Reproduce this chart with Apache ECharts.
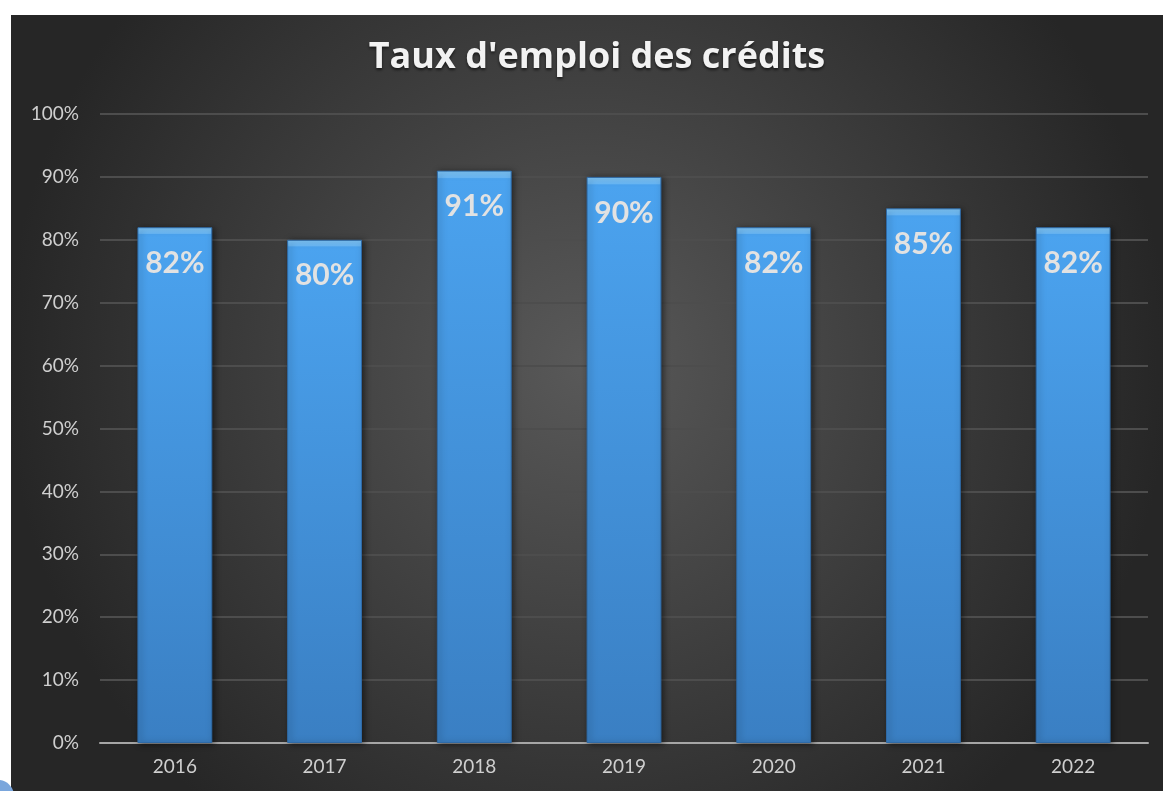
<!DOCTYPE html>
<html>
<head>
<meta charset="utf-8">
<script src="https://cdn.jsdelivr.net/npm/echarts@6/dist/echarts.min.js"></script>
<style>
  html, body { margin: 0; padding: 0; background: #ffffff; }
  #chart { width: 1163px; height: 791px; }
</style>
</head>
<body>
<div id="chart"></div>
<script>
const years = ["2016", "2017", "2018", "2019", "2020", "2021", "2022"];
const rates = [82, 80, 91, 90, 82, 85, 82];
const yTicks = [0, 10, 20, 30, 40, 50, 60, 70, 80, 90, 100];

const chart = echarts.init(document.getElementById("chart"));

const option = {
  backgroundColor: "#ffffff",
  animation: false,
  graphic: [
    {
      type: "rect",
      z: -10,
      shape: { x: 11, y: 15, width: 1152, height: 776 },
      style: {
        fill: {
          type: "radial", x: 0.5, y: 0.45, r: 0.75,
          colorStops: [
            { offset: 0, color: "#595959" },
            { offset: 1, color: "#262626" }
          ]
        }
      }
    },
    {
      type: "circle",
      z: -9,
      shape: { cx: -2, cy: 796, r: 16 },
      style: { fill: "#7aa6dc" }
    }
  ],
  title: {
    text: "Taux d'emploi des crédits",
    left: 592,
    textAlign: "center",
    top: 35,
    textStyle: {
      color: "#f2f2f2",
      fontFamily: "Open Sans",
      fontWeight: "bold",
      fontSize: 36,
      textShadowColor: "rgba(0,0,0,0.6)",
      textShadowBlur: 3,
      textShadowOffsetY: 2
    }
  },
  grid: { left: 100, right: 15, top: 114, bottom: 48 },
  xAxis: {
    type: "category",
    data: years,
    axisTick: { show: false },
    axisLine: { lineStyle: { color: "#a6a6a6", width: 2 } },
    axisLabel: { color: "#cfcfcf", fontFamily: "Lato", fontSize: 19, margin: 14 }
  },
  yAxis: {
    type: "value",
    min: 0,
    max: 100,
    interval: 10,
    axisLine: { show: false },
    axisTick: { show: false },
    splitLine: { lineStyle: { color: "#4d4d4d", width: 2 } },
    axisLabel: {
      color: "#cfcfcf",
      fontFamily: "Lato",
      fontSize: 19,
      margin: 21,
      formatter: (v) => (yTicks.includes(v) ? v + "%" : "")
    }
  },
  series: [
    {
      type: "bar",
      data: rates,
      barWidth: "50%",
      itemStyle: {
        color: {
          type: "linear", x: 0, y: 0, x2: 0, y2: 1,
          colorStops: [
            { offset: 0, color: "#80c8fa" },
            { offset: 0.012, color: "#6ab8f6" },
            { offset: 0.014, color: "#4ba3ef" },
            { offset: 1, color: "#3a7fc3" }
          ]
        },
        borderColor: "#2f6aa6",
        borderWidth: 1,
        shadowColor: "rgba(0,0,0,0.5)",
        shadowBlur: 6,
        shadowOffsetX: 2,
        shadowOffsetY: 1
      },
      label: {
        show: true,
        position: "insideTop",
        distance: 21,
        formatter: "{c}%",
        color: "#e2e2e2",
        fontFamily: "Lato",
        fontWeight: "bold",
        fontSize: 30
      }
    }
  ]
};

chart.setOption(option);
</script>
</body>
</html>
